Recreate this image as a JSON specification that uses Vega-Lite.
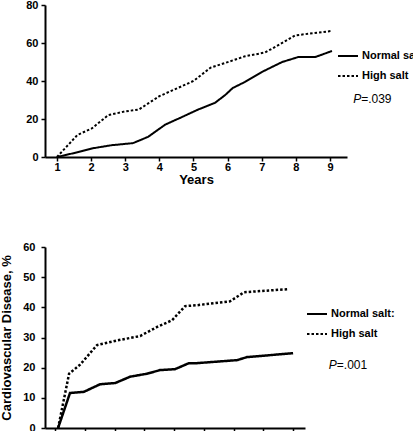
{
  "$schema": "https://vega.github.io/schema/vega-lite/v6.json",
  "padding": {"left": 0, "top": -1, "right": 0, "bottom": -14},
  "spacing": 55,
  "background": "white",
  "config": {
    "view": {"stroke": null},
    "font": "Liberation Sans",
    "axis": {
      "domainColor": "black", "domainWidth": 2, "tickColor": "black", "tickWidth": 1.5, "tickSize": 4,
      "labelColor": "black", "labelFont": "Liberation Sans", "labelFontWeight": "bold", "labelFontSize": 11,
      "labelOverlap": false, "labelFlush": false, "tickCount": 20, "format": "d",
      "titleColor": "black", "titleFont": "Liberation Sans", "titleFontWeight": "bold", "titleFontSize": 13,
      "grid": false
    },
    "legend": {
      "orient": "none", "title": null, "symbolType": "stroke", "symbolSize": 400, "symbolStrokeWidth": 2,
      "symbolStrokeColor": "black", "labelFont": "Liberation Sans", "labelFontWeight": "bold", "labelFontSize": 11,
      "labelColor": "black", "labelOffset": 3, "rowPadding": 4, "padding": 0, "labelLimit": 300
    }
  },
  "datasets": {
    "top": [
      {"year": 1, "pct": 0, "group": "Normal salt"},
      {"year": 1.63, "pct": 2.6, "group": "Normal salt"},
      {"year": 2.02, "pct": 4.5, "group": "Normal salt"},
      {"year": 2.6, "pct": 6.2, "group": "Normal salt"},
      {"year": 3.23, "pct": 7.3, "group": "Normal salt"},
      {"year": 3.67, "pct": 10.6, "group": "Normal salt"},
      {"year": 4.17, "pct": 17, "group": "Normal salt"},
      {"year": 4.66, "pct": 21, "group": "Normal salt"},
      {"year": 5.14, "pct": 25, "group": "Normal salt"},
      {"year": 5.63, "pct": 28.5, "group": "Normal salt"},
      {"year": 5.93, "pct": 32.6, "group": "Normal salt"},
      {"year": 6.15, "pct": 36.3, "group": "Normal salt"},
      {"year": 6.51, "pct": 39.5, "group": "Normal salt"},
      {"year": 7.0, "pct": 44.7, "group": "Normal salt"},
      {"year": 7.6, "pct": 50, "group": "Normal salt"},
      {"year": 8.07, "pct": 52.6, "group": "Normal salt"},
      {"year": 8.57, "pct": 52.6, "group": "Normal salt"},
      {"year": 9.06, "pct": 55.8, "group": "Normal salt"},
      {"year": 1, "pct": 0, "group": "High salt"},
      {"year": 1.6, "pct": 11.6, "group": "High salt"},
      {"year": 2.02, "pct": 15, "group": "High salt"},
      {"year": 2.5, "pct": 22, "group": "High salt"},
      {"year": 3.0, "pct": 24, "group": "High salt"},
      {"year": 3.4, "pct": 25, "group": "High salt"},
      {"year": 4.0, "pct": 32, "group": "High salt"},
      {"year": 4.5, "pct": 36, "group": "High salt"},
      {"year": 5.0, "pct": 40, "group": "High salt"},
      {"year": 5.5, "pct": 47, "group": "High salt"},
      {"year": 5.93, "pct": 49.5, "group": "High salt"},
      {"year": 6.51, "pct": 53, "group": "High salt"},
      {"year": 7.1, "pct": 55, "group": "High salt"},
      {"year": 7.5, "pct": 59, "group": "High salt"},
      {"year": 7.98, "pct": 64, "group": "High salt"},
      {"year": 9.03, "pct": 66.3, "group": "High salt"}
    ],
    "bottom": [
      {"year": 1.1, "pct": 0, "group": "Normal salt"},
      {"year": 1.5, "pct": 11.6, "group": "Normal salt"},
      {"year": 1.97, "pct": 12, "group": "Normal salt"},
      {"year": 2.51, "pct": 14.5, "group": "Normal salt"},
      {"year": 3.02, "pct": 14.9, "group": "Normal salt"},
      {"year": 3.52, "pct": 17, "group": "Normal salt"},
      {"year": 4.09, "pct": 18, "group": "Normal salt"},
      {"year": 4.53, "pct": 19.2, "group": "Normal salt"},
      {"year": 5.03, "pct": 19.5, "group": "Normal salt"},
      {"year": 5.5, "pct": 21.5, "group": "Normal salt"},
      {"year": 5.77, "pct": 21.5, "group": "Normal salt"},
      {"year": 7.12, "pct": 22.5, "group": "Normal salt"},
      {"year": 7.45, "pct": 23.5, "group": "Normal salt"},
      {"year": 9.0, "pct": 24.8, "group": "Normal salt"},
      {"year": 1.1, "pct": 0, "group": "High salt"},
      {"year": 1.47, "pct": 18, "group": "High salt"},
      {"year": 1.84, "pct": 21, "group": "High salt"},
      {"year": 2.41, "pct": 27.5, "group": "High salt"},
      {"year": 3.08, "pct": 29, "group": "High salt"},
      {"year": 3.86, "pct": 30.5, "group": "High salt"},
      {"year": 4.43, "pct": 33.5, "group": "High salt"},
      {"year": 4.93, "pct": 35.7, "group": "High salt"},
      {"year": 5.37, "pct": 40.4, "group": "High salt"},
      {"year": 5.77, "pct": 40.7, "group": "High salt"},
      {"year": 6.88, "pct": 42, "group": "High salt"},
      {"year": 7.35, "pct": 45, "group": "High salt"},
      {"year": 8.8, "pct": 46, "group": "High salt"}
    ]
  },
  "resolve": {"legend": {"strokeDash": "independent"}},
  "vconcat": [
    {
      "width": 302,
      "height": 152,
      "layer": [
        {
          "data": {"name": "top"},
          "mark": {"type": "line", "color": "black", "strokeWidth": 2},
          "encoding": {
            "x": {"field": "year", "type": "quantitative", "scale": {"domain": [0.65, 9.5], "nice": false, "zero": false},
                  "axis": {"values": [1, 2, 3, 4, 5, 6, 7, 8, 9], "format": "d", "tickCount": 20, "labelOverlap": false, "labelFlush": false, "title": "Years", "titleFontSize": 13, "labelPadding": 0, "titlePadding": 1}},
            "y": {"field": "pct", "type": "quantitative", "scale": {"domain": [0, 80], "nice": false},
                  "axis": {"values": [0, 20, 40, 60, 80], "format": "d", "tickCount": 20, "labelOverlap": false, "labelFlush": false, "title": null, "labelPadding": 3}},
            "strokeDash": {"field": "group", "type": "nominal",
                           "scale": {"domain": ["Normal salt", "High salt"], "range": [[1, 0], [2.5, 2]]},
                           "legend": {"legendX": 292, "legendY": 40, "labelLimit": 300, "labelExpr": "datum.label + '\u00a0\u00a0\u00a0'"}}
          }
        },
        {
          "data": {"values": [{"year": 9.68, "pct": 30.5, "p": "P", "v": "=.039"}]},
          "mark": {"type": "text", "fontStyle": "italic", "align": "left", "baseline": "middle", "fontSize": 12, "color": "black"},
          "encoding": {"x": {"field": "year", "type": "quantitative"}, "y": {"field": "pct", "type": "quantitative"}, "text": {"field": "p"}}
        },
        {
          "data": {"values": [{"year": 9.68, "pct": 30.5, "p": "P", "v": "=.039"}]},
          "mark": {"type": "text", "align": "left", "baseline": "middle", "fontSize": 12, "dx": 8, "color": "black"},
          "encoding": {"x": {"field": "year", "type": "quantitative"}, "y": {"field": "pct", "type": "quantitative"}, "text": {"field": "v"}}
        }
      ]
    },
    {
      "width": 260,
      "height": 181,
      "layer": [
        {
          "data": {"name": "bottom"},
          "mark": {"type": "line", "color": "black", "strokeWidth": 2.5},
          "encoding": {
            "x": {"field": "year", "type": "quantitative", "scale": {"domain": [0.66, 9.4], "nice": false, "zero": false},
                  "axis": {"values": [1, 2, 3, 4, 5, 6, 7, 8, 9], "format": "d", "tickCount": 20, "labelOverlap": false, "labelFlush": false, "title": null, "labelPadding": 2}},
            "y": {"field": "pct", "type": "quantitative", "scale": {"domain": [0, 60], "nice": false},
                  "axis": {"values": [0, 10, 20, 30, 40, 50, 60], "format": "d", "tickCount": 20, "labelOverlap": false, "labelFlush": false, "title": "Cardiovascular Disease, %", "labelPadding": 6, "titlePadding": 9}},
            "strokeDash": {"field": "group", "type": "nominal",
                           "scale": {"domain": ["Normal salt", "High salt"], "range": [[1, 0], [2.5, 2]]},
                           "legend": {"legendX": 261, "legendY": 56, "labelLimit": 300, "labelExpr": "datum.label == 'Normal salt' ? 'Normal salt:' : datum.label"}}
          }
        },
        {
          "data": {"values": [{"year": 10.2, "pct": 20.9, "p": "P", "v": "=.001"}]},
          "mark": {"type": "text", "fontStyle": "italic", "align": "left", "baseline": "middle", "fontSize": 12, "color": "black"},
          "encoding": {"x": {"field": "year", "type": "quantitative"}, "y": {"field": "pct", "type": "quantitative"}, "text": {"field": "p"}}
        },
        {
          "data": {"values": [{"year": 10.2, "pct": 20.9, "p": "P", "v": "=.001"}]},
          "mark": {"type": "text", "align": "left", "baseline": "middle", "fontSize": 12, "dx": 8, "color": "black"},
          "encoding": {"x": {"field": "year", "type": "quantitative"}, "y": {"field": "pct", "type": "quantitative"}, "text": {"field": "v"}}
        }
      ]
    }
  ]
}
